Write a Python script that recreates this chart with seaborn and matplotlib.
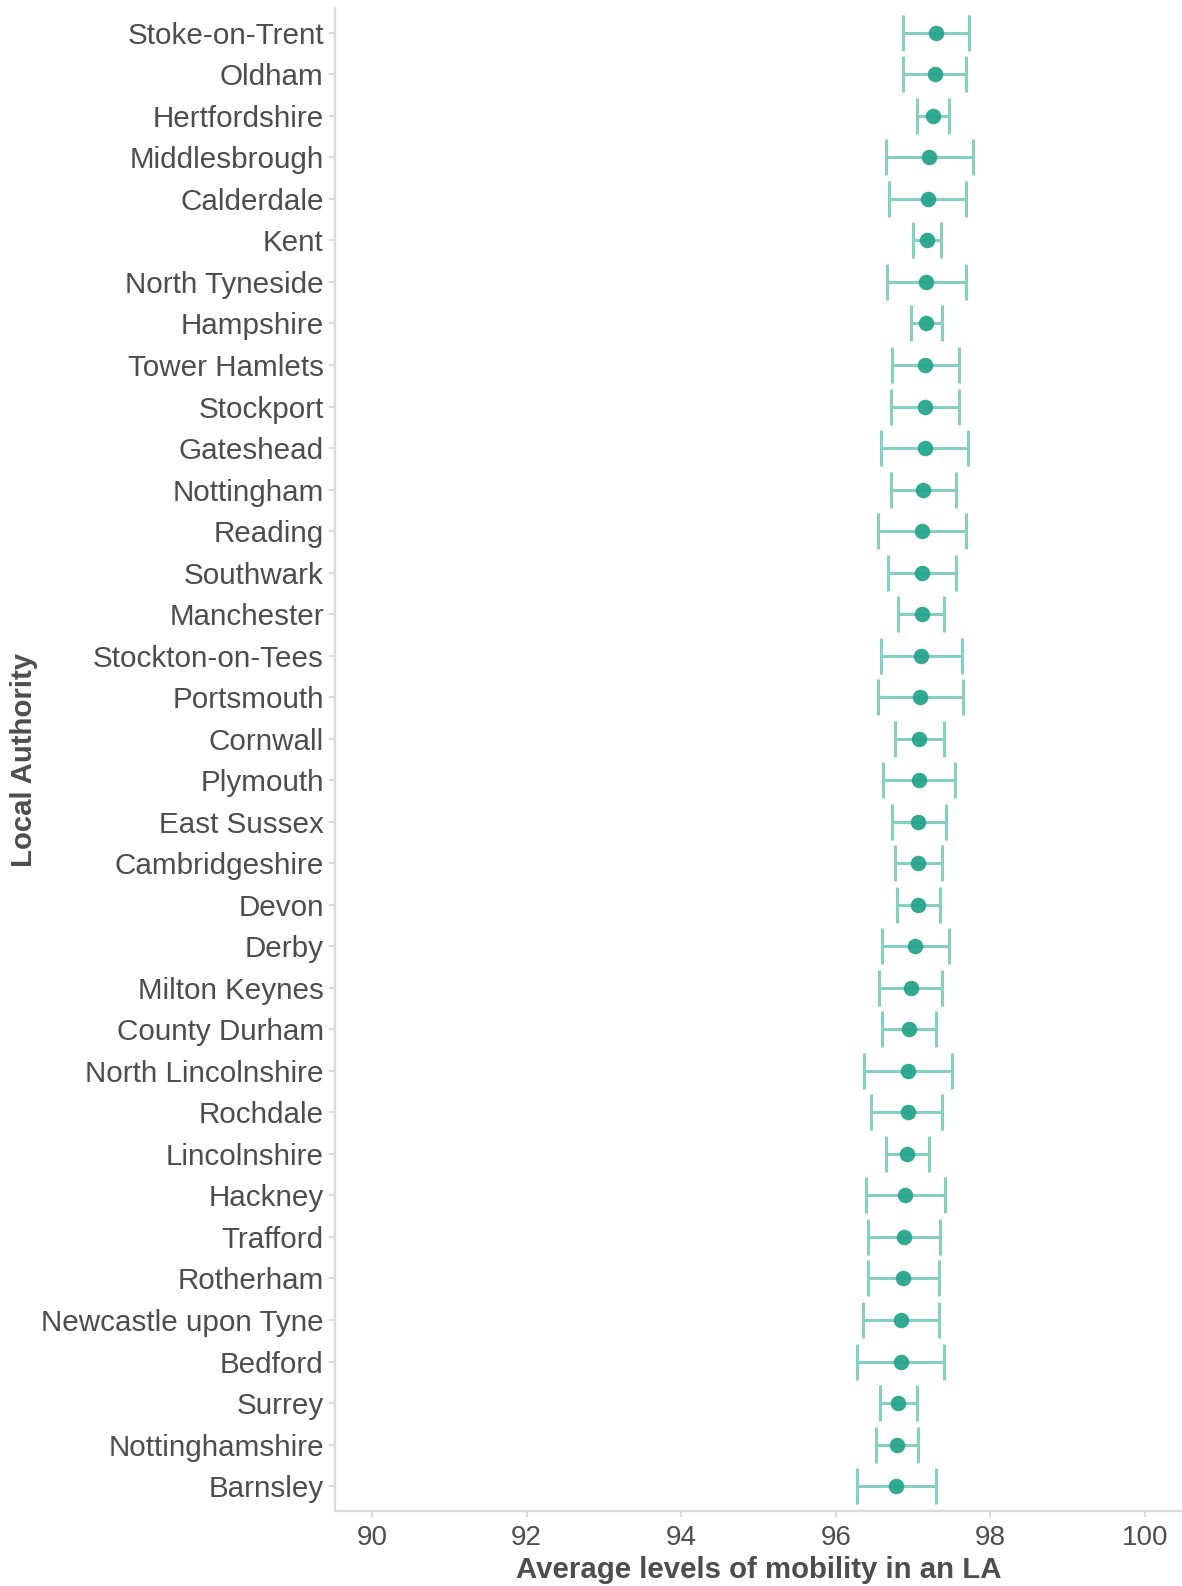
import numpy as np
import pandas as pd
import matplotlib
matplotlib.use("Agg")
import matplotlib.pyplot as plt
import seaborn as sns

# Local authorities, ordered top to bottom
authorities = [
    "Stoke-on-Trent", "Oldham", "Hertfordshire", "Middlesbrough", "Calderdale",
    "Kent", "North Tyneside", "Hampshire", "Tower Hamlets", "Stockport",
    "Gateshead", "Nottingham", "Reading", "Southwark", "Manchester",
    "Stockton-on-Tees", "Portsmouth", "Cornwall", "Plymouth", "East Sussex",
    "Cambridgeshire", "Devon", "Derby", "Milton Keynes", "County Durham",
    "North Lincolnshire", "Rochdale", "Lincolnshire", "Hackney", "Trafford",
    "Rotherham", "Newcastle upon Tyne", "Bedford", "Surrey", "Nottinghamshire",
    "Barnsley",
]

# Average mobility estimate per authority
mobility_mean = [
    97.30, 97.28, 97.26, 97.21, 97.19, 97.18, 97.17, 97.17, 97.16, 97.16,
    97.15, 97.13, 97.11, 97.11, 97.11, 97.10, 97.09, 97.08, 97.08, 97.07,
    97.07, 97.06, 97.03, 96.97, 96.95, 96.93, 96.93, 96.92, 96.90, 96.88,
    96.87, 96.84, 96.84, 96.81, 96.79, 96.78,
]

# Lower and upper interval bounds
mobility_low = [
    96.87, 96.87, 97.05, 96.65, 96.69, 97.00, 96.66, 96.97, 96.73, 96.72,
    96.59, 96.72, 96.54, 96.67, 96.81, 96.58, 96.55, 96.76, 96.61, 96.73,
    96.77, 96.79, 96.60, 96.56, 96.60, 96.36, 96.46, 96.65, 96.39, 96.42,
    96.42, 96.35, 96.28, 96.57, 96.52, 96.27,
]
mobility_high = [
    97.73, 97.69, 97.46, 97.78, 97.69, 97.36, 97.69, 97.37, 97.59, 97.59,
    97.71, 97.55, 97.69, 97.55, 97.40, 97.63, 97.64, 97.40, 97.54, 97.42,
    97.37, 97.35, 97.47, 97.37, 97.30, 97.51, 97.38, 97.20, 97.41, 97.35,
    97.33, 97.33, 97.40, 97.05, 97.07, 97.30,
]

x_ticks = [90, 92, 94, 96, 98, 100]

df = pd.DataFrame({
    "authority": authorities,
    "mean": mobility_mean,
    "low": mobility_low,
    "high": mobility_high,
})

sns.set_theme(style="white")
plt.rcParams["font.family"] = ["Liberation Sans", "DejaVu Sans"]

text_grey = "#4d4d4d"
line_grey = "#d9d9d9"
point_col = "#27a58c"
bar_col = "#85d0c1"

fig = plt.figure(figsize=(11.82, 15.86), dpi=100)
ax = fig.add_axes([0.2834, 0.0473, 0.7166, 0.9477])

pos = np.arange(len(df))
ax.errorbar(
    x=df["mean"], y=pos,
    xerr=[df["mean"] - df["low"], df["high"] - df["mean"]],
    fmt="none", ecolor=bar_col, elinewidth=2.2, capsize=13.2,
    capthick=2.2, zorder=2,
)
sns.scatterplot(
    x=df["mean"], y=pos, ax=ax, color=point_col, s=125,
    linewidth=0, alpha=0.95, zorder=3, legend=False,
)

ax.set_xlim(89.52, 100.48)
ax.set_ylim(len(df) - 1 + 0.6, -0.6)
ax.set_xticks(x_ticks)
ax.set_xticklabels([str(t) for t in x_ticks])
ax.set_yticks(pos)
ax.set_yticklabels(df["authority"])

for side in ["top", "right"]:
    ax.spines[side].set_visible(False)
for side in ["left", "bottom"]:
    ax.spines[side].set_color(line_grey)
    ax.spines[side].set_linewidth(1.6)

ax.tick_params(axis="both", which="major", length=4, width=1.4,
               color=line_grey, labelcolor=text_grey, pad=4,
               left=True, bottom=True)
ax.tick_params(axis="y", labelsize=21.3)
ax.tick_params(axis="x", labelsize=20, pad=6)
ax.grid(False)

ax.set_xlabel("Average levels of mobility in an LA", fontsize=21.2,
              fontweight="bold", color=text_grey, labelpad=4)
ax.set_ylabel("Local Authority", fontsize=21.2, fontweight="bold",
              color=text_grey, labelpad=2)

fig.savefig("out.png", dpi=100)
